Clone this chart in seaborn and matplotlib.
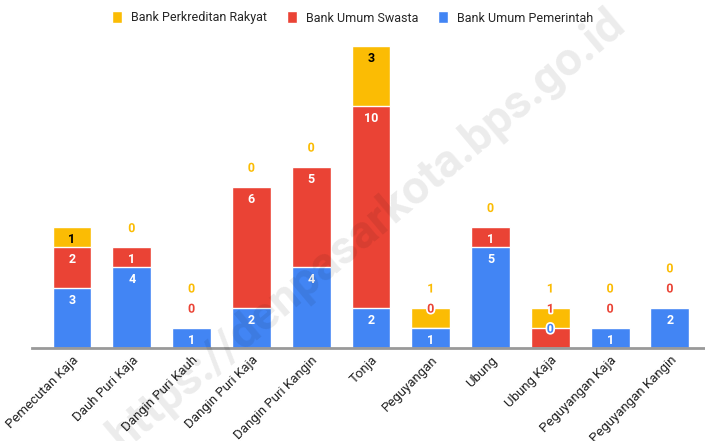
import matplotlib
matplotlib.use("Agg")
import matplotlib.pyplot as plt
import matplotlib.patheffects as pe
from matplotlib.patches import Patch
import seaborn as sns
import numpy as np
import pandas as pd

regions = ["Pemecutan Kaja", "Dauh Puri Kaja", "Dangin Puri Kauh", "Dangin Puri Kaja",
           "Dangin Puri Kangin", "Tonja", "Peguyangan", "Ubung", "Ubung Kaja",
           "Peguyangan Kaja", "Peguyangan Kangin"]
pemerintah = [3, 4, 1, 2, 4, 2, 1, 5, 0, 1, 2]
swasta = [2, 1, 0, 6, 5, 10, 0, 1, 1, 0, 0]
bpr = [1, 0, 0, 0, 0, 3, 1, 0, 1, 0, 0]

series = ["Bank Umum Pemerintah", "Bank Umum Swasta", "Bank Perkreditan Rakyat"]
colors = ["#4285F4", "#EA4335", "#FBBC04"]
text_in = ["white", "white", "black"]

sns.set_style("white")
plt.rcParams["font.family"] = ["Roboto", "DejaVu Sans"]

df = pd.DataFrame({"region": regions, "pemerintah": pemerintah,
                   "swasta": swasta, "bpr": bpr})
vals = df[["pemerintah", "swasta", "bpr"]].to_numpy()
cum = vals.cumsum(axis=1)

fig = plt.figure(figsize=(7.05, 4.41), dpi=100)
ax = fig.add_axes([32 / 705, 93 / 441, (704 - 32) / 705, 308 / 441])

# draw cumulative totals from the top layer down
for k in [2, 1, 0]:
    sns.barplot(x=df["region"], y=cum[:, k], color=colors[k], width=0.65,
                saturation=1, ax=ax, errorbar=None)

# value labels
for i in range(len(regions)):
    prev_out = -10
    pushed = False
    for k in range(3):
        v = vals[i, k]
        top = cum[i, k]
        if v > 0 and not pushed:
            ax.text(i, top - 0.62, str(v), ha="center", va="center",
                    color=text_in[k], fontsize=9, fontweight="bold")
        else:
            pushed = True
            y = max(top + 0.93, prev_out + 1.0)
            prev_out = y
            ax.text(i, y, str(v), ha="center", va="center", color=colors[k],
                    fontsize=9, fontweight="bold",
                    path_effects=[pe.withStroke(linewidth=2.5, foreground="white")])

ax.set_xlim(-0.67, 10.57)
ax.set_ylim(0, 15.3)
ax.set_xlabel("")
ax.set_ylabel("")
ax.set_yticks([])
for s in ["top", "right", "left"]:
    ax.spines[s].set_visible(False)
ax.spines["bottom"].set_color("#999999")
ax.spines["bottom"].set_linewidth(2)
ax.tick_params(axis="x", length=0, pad=4)
ax.set_xticks(range(len(regions)))
ax.set_xticklabels(regions, rotation=45, ha="right", rotation_mode="anchor",
                   fontsize=9.5, color="#222222")

handles = [Patch(facecolor=colors[k], label=series[k]) for k in [2, 1, 0]]
fig.legend(handles=handles, loc="upper center", bbox_to_anchor=(0.5, 1.0),
           ncol=3, frameon=False, fontsize=9, handlelength=0.8, handleheight=1.1,
           handletextpad=0.7, columnspacing=1.6)

fig.text(0.52, 0.48, "https://denpasarkota.bps.go.id", rotation=40, ha="center",
         va="center", fontsize=34, fontweight="bold", color="#000000", alpha=0.08)

fig.savefig("out.png", dpi=100)
